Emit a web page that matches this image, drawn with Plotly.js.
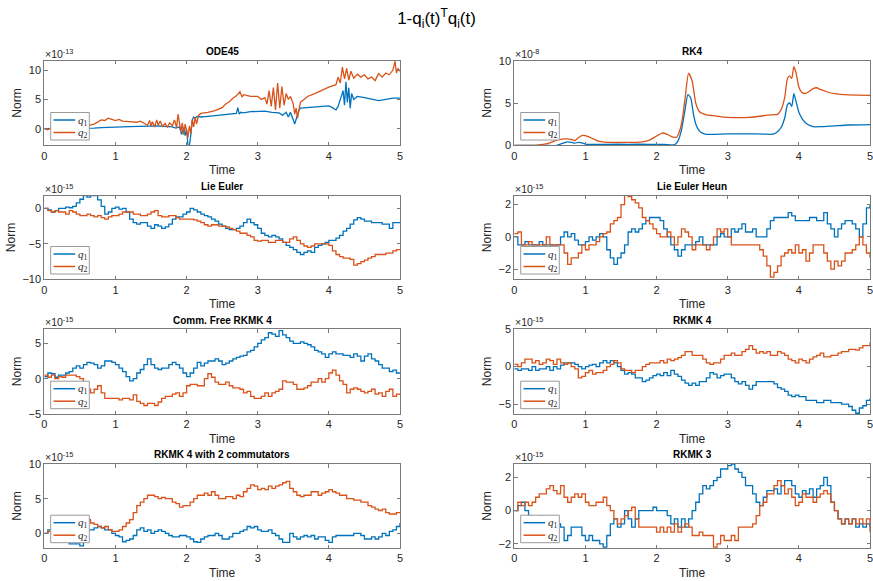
<!DOCTYPE html>
<html><head><meta charset="utf-8">
<script src="https://cdn.plot.ly/plotly-3.0.1.min.js"></script>
<style>html,body{margin:0;padding:0;background:#fff}#chart{width:873px;height:581px}</style>
</head><body><div id="chart"></div>
<script>
// ---------------- DATA (values in units of the axis multiplier) ----------------
// ODE45 (x 1e-13)
const ode45_t1 = [0,0.1,0.2,0.3,0.4,0.5,0.6,0.7,0.8,0.9,1.0,1.1,1.2,1.3,1.4,1.5,1.6,1.7,1.8,1.85,1.9,1.93,1.96,1.98,2.0,2.02,2.04,2.06,2.08,2.1,2.12,2.15,2.2,2.3,2.4,2.5,2.6,2.65,2.7,2.72,2.74,2.76,2.8,2.9,3.0,3.1,3.2,3.3,3.35,3.4,3.43,3.46,3.5,3.52,3.55,3.58,3.6,3.7,3.8,3.9,4.0,4.05,4.1,4.13,4.16,4.2,4.22,4.24,4.26,4.28,4.3,4.32,4.35,4.4,4.5,4.6,4.7,4.8,4.9,5.0];
const ode45_q1 = [0,0,0,0,0,0,0.05,0.1,0.2,0.2,0.2,0.3,0.35,0.4,0.45,0.5,0.5,0.4,0.3,0.1,0.3,-1.0,0.2,-1.2,0.0,-2.9,-2.9,-1.0,1.5,2.0,1.8,2.1,2.0,2.1,2.2,2.3,2.5,2.5,2.6,3.6,2.5,2.8,2.7,2.9,3.0,3.0,2.8,2.7,2.3,2.8,2.0,2.8,1.5,0.8,2.0,3.2,3.5,3.6,3.7,3.8,3.9,3.6,3.2,3.8,5.0,6.5,4.0,8.0,4.5,7.0,3.5,6.0,5.0,5.5,5.3,5.0,4.8,5.0,5.2,5.2];
const ode45_t2 = [0,0.05,0.1,0.15,0.2,0.3,0.4,0.5,0.6,0.7,0.75,0.8,0.85,0.9,0.95,1.0,1.05,1.1,1.2,1.3,1.35,1.4,1.45,1.48,1.5,1.52,1.55,1.58,1.6,1.63,1.66,1.7,1.73,1.76,1.8,1.83,1.86,1.88,1.9,1.92,1.94,1.96,1.98,2.0,2.02,2.04,2.06,2.08,2.1,2.12,2.14,2.17,2.2,2.3,2.4,2.5,2.55,2.6,2.65,2.7,2.75,2.78,2.8,2.9,3.0,3.05,3.1,3.13,3.16,3.19,3.22,3.25,3.28,3.31,3.34,3.37,3.4,3.43,3.46,3.5,3.52,3.54,3.56,3.58,3.6,3.65,3.7,3.8,3.9,4.0,4.05,4.1,4.13,4.16,4.19,4.22,4.25,4.28,4.31,4.35,4.4,4.45,4.5,4.55,4.6,4.65,4.7,4.75,4.8,4.85,4.9,4.93,4.95,4.97,5.0];
const ode45_q2 = [0,-0.2,0.2,-0.3,0,0.1,0.2,0.3,0.5,0.8,1.2,1.5,1.4,1.8,1.6,1.4,1.6,1.3,1.2,1.1,1.3,1.0,0.6,1.4,0.5,1.2,0.3,1.5,0.6,1.3,0.4,0.9,0.2,1.0,0.5,1.5,0.2,2.5,0.5,-0.5,1.0,-1.0,0.8,-0.5,-1.5,0.5,-0.8,1.5,0.3,2.0,0.8,2.3,2.6,2.8,3.1,3.6,4.2,4.6,5.2,5.6,6.3,5.4,5.8,5.5,5.5,5.0,5.3,4.2,6.5,3.8,7.0,3.2,7.8,3.5,7.2,4.0,6.0,5.0,5.5,4.2,2.5,3.5,1.8,3.2,4.5,5.0,5.5,6.0,6.6,7.1,7.3,7.5,8.8,7.8,10.5,8.5,10.3,8.3,9.8,8.6,9.3,8.8,9.2,8.5,8.8,8.2,9.4,8.8,9.5,9.2,10.0,11.5,9.5,10.3,9.8];

// RK4 (x 1e-8)
const rk4_t1 = [0,0.4,0.5,0.55,0.6,0.65,0.7,0.75,0.8,0.85,0.9,0.95,1.0,1.1,1.3,1.6,1.9,2.1,2.2,2.25,2.3,2.35,2.4,2.44,2.48,2.52,2.56,2.6,2.65,2.7,2.8,3.0,3.3,3.5,3.6,3.65,3.7,3.75,3.8,3.84,3.87,3.9,3.93,3.96,4.0,4.05,4.1,4.15,4.2,4.3,4.5,4.7,5.0];
const rk4_q1 = [0,0,-0.02,-0.05,0,0.15,0.3,0.4,0.35,0.25,0.35,0.3,0.15,0.1,0.12,0.12,0.12,0.1,0.05,0.05,0.5,1.8,4.2,6.0,5.6,3.6,2.3,1.7,1.4,1.3,1.3,1.35,1.35,1.33,1.3,1.35,1.6,2.1,3.2,4.8,5.0,4.6,6.1,5.2,3.9,3.1,2.6,2.35,2.2,2.2,2.3,2.4,2.45];
const rk4_t2 = [0,0.3,0.4,0.5,0.6,0.7,0.8,0.85,0.9,0.95,1.0,1.05,1.1,1.2,1.3,1.5,1.7,1.8,1.9,2.0,2.08,2.15,2.22,2.28,2.32,2.36,2.4,2.45,2.5,2.55,2.6,2.7,2.8,3.0,3.3,3.6,3.7,3.75,3.8,3.84,3.87,3.9,3.93,3.96,4.0,4.05,4.1,4.15,4.2,4.25,4.3,4.4,4.5,4.7,5.0];
const rk4_q2 = [0,0,0.1,0.3,0.6,0.75,0.7,0.55,0.9,1.15,1.15,1.0,0.8,0.45,0.35,0.35,0.35,0.4,0.6,1.1,1.45,1.3,1.0,0.95,1.6,3.0,5.5,8.5,7.6,5.0,4.0,3.6,3.5,3.3,3.3,3.6,3.65,4.2,5.6,7.9,8.2,7.9,9.3,8.6,6.9,6.2,6.15,6.4,6.7,6.8,6.6,6.3,6.1,5.95,5.9];

// The remaining series are sampled every 0.05 from t = 0 to t = 5 (x 1e-15)
const lieEuler_q1 = [0,-0.2,-0.5,-0.3,0,0,0.2,0.1,0.3,0.8,
 1.3,1.8,1.6,1.8,1.8,1.2,0.3,-0.8,-0.5,0,
 0.2,-0.1,0,-0.5,-1.5,-2.0,-2.2,-2.0,-2.0,-2.5,
 -2.8,-2.3,-2.5,-2.8,-2.6,-2.2,-1.5,-1.2,-1.2,-0.8,
 -0.5,0,-0.2,-0.5,-0.8,-1.0,-1.2,-1.5,-1.8,-2.2,
 -2.5,-2.8,-3.0,-3.0,-2.8,-2.5,-2.0,-1.5,-2.0,-2.3,
 -2.8,-3.5,-3.8,-4.0,-3.8,-4.0,-4.3,-4.8,-5.2,-5.5,
 -5.8,-6.2,-6.5,-6.2,-6.0,-6.2,-5.5,-5.2,-5.0,-4.8,
 -4.5,-4.5,-4.2,-3.8,-3.2,-2.8,-2.2,-1.6,-1.3,-1.5,
 -1.8,-1.8,-2.0,-2.0,-2.0,-2.2,-2.2,-2.8,-2.0,-2.0,
 -1.9];
const lieEuler_q2 = [0,-0.3,-0.5,-0.3,-0.5,-0.5,-0.8,-0.3,-0.5,-0.8,
 -1.0,-1.0,-0.8,-1.0,-1.2,-1.0,-1.3,-1.5,-1.2,-1.0,
 -1.0,-0.8,-0.5,-0.5,-0.5,-0.8,-0.8,-1.0,-1.0,-0.8,
 -0.5,-0.3,-1.0,-1.2,-1.2,-1.0,-1.0,-1.3,-1.5,-1.5,
 -1.5,-1.5,-1.6,-1.8,-2.0,-2.3,-2.5,-2.3,-2.3,-2.5,
 -2.5,-2.6,-2.8,-3.0,-3.2,-3.5,-3.5,-3.8,-4.0,-4.5,
 -4.6,-4.5,-4.5,-4.8,-4.8,-4.5,-4.5,-4.8,-4.8,-4.3,
 -4.0,-4.5,-5.0,-5.3,-5.5,-5.3,-5.0,-5.0,-5.0,-5.0,
 -5.2,-6.0,-6.5,-6.8,-7.0,-7.0,-7.2,-8.0,-7.8,-7.5,
 -7.3,-7.0,-6.8,-6.5,-6.5,-6.5,-6.3,-6.3,-6.0,-5.8,
 -5.8];
const lieEulerHeun_q1 = [0,-0.5,-0.5,-0.3,-0.5,-0.5,-0.5,-0.3,-0.5,-0.5,
 -0.5,-0.5,-0.5,0,0.3,0,0.2,-0.2,-0.5,-0.5,
 -0.3,0,-0.2,0,0.2,0,-0.8,-1.3,-1.7,-1.3,
 -1.0,-0.5,0.3,0.5,0.3,0.5,0.8,1.0,1.2,1.2,
 1.2,1.0,0.5,0,-0.5,-0.8,-1.2,-0.8,-0.5,-0.5,
 -0.5,-0.3,0,-0.5,-0.5,-0.5,-0.5,0,0.2,0,
 0,0.5,0.3,0.5,0.8,0.3,0.3,0.5,0,0,
 0,0.5,1.0,1.2,1.2,1.2,1.2,1.5,1.3,1.0,
 1.0,1.0,1.0,1.2,1.2,1.0,1.0,1.5,0.8,0.5,
 0,0.5,0.8,1.0,1.0,0.8,0.5,0,0.8,1.8,
 2.0];
const lieEulerHeun_q2 = [0.2,0.3,-0.5,-0.5,-0.3,-0.5,-0.5,-0.5,-0.5,0,
 -0.5,-0.5,-0.5,-0.5,-1.0,-1.7,-1.3,-1.3,-1.0,-0.5,
 -0.8,-0.5,-0.5,-0.3,0,0.2,0.3,0.8,1.0,1.2,
 2.0,2.6,2.5,2.3,2.1,1.8,1.2,1.0,0.8,0.5,
 0.2,0,0,0.3,0,-0.5,0,0.5,0.3,0,
 -0.8,-0.5,-0.5,-0.5,-0.8,-0.5,0,0.5,0.3,0.5,
 0,-0.5,-0.5,-0.5,-0.5,-0.5,-0.5,-0.5,-0.5,-0.8,
 -1.2,-1.8,-2.5,-2.2,-1.8,-1.2,-1.0,-0.8,-1.0,-0.5,
 -1.0,-0.8,-1.5,-1.0,-0.5,-0.5,-0.5,-1.0,-1.5,-2.0,
 -1.5,-1.8,-1.5,-1.0,-1.0,-0.8,-0.5,0,-0.5,-1.0,
 -1.3];
const commFree_q1 = [0.3,0.8,0.7,0.2,0.5,0.5,0.8,1.0,1.5,1.8,
 1.5,2.0,2.3,2.2,2.0,1.5,1.8,2.5,2.5,2.3,
 2.0,1.5,1.0,0.3,-0.3,0,0.8,1.3,2.0,2.8,
 2.0,1.5,1.3,1.5,1.5,2.0,2.3,2.0,1.5,0.8,
 0.3,0.8,1.5,2.3,1.8,2.2,2.5,2.5,2.8,2.5,
 2.0,2.2,2.5,2.8,3.0,3.2,3.3,3.8,4.0,4.5,
 5.0,5.5,5.8,6.5,6.3,6.0,6.8,6.2,5.8,5.3,
 5.0,5.0,5.2,5.0,4.8,4.5,4.0,3.8,3.5,3.0,
 3.5,3.8,3.5,3.5,3.3,3.3,3.0,3.5,3.2,2.5,
 3.2,3.5,2.8,2.5,2.0,1.5,1.5,1.0,1.2,0.8,
 0.8];
const commFree_q2 = [0.5,0.2,0.5,0,0.3,0.2,0.5,0.5,0.5,0.3,
 0,-0.8,-1.5,-2.0,-1.5,-1.0,-2.0,-2.8,-2.8,-2.8,
 -2.8,-3.0,-2.8,-2.8,-3.0,-2.3,-3.2,-3.5,-3.8,-3.5,
 -3.5,-3.8,-3.3,-2.8,-2.5,-2.5,-2.2,-2.0,-2.5,-2.0,
 -1.0,-0.8,-0.8,-1.0,-1.0,0,0.7,0.2,-0.5,-0.8,
 -0.8,-0.5,-1.0,-1.3,-1.3,-1.5,-2.0,-1.8,-2.5,-2.8,
 -2.8,-2.5,-2.0,-2.5,-2.0,-1.8,-1.5,-0.3,-0.5,-0.5,
 -0.8,-1.5,-1.5,-1.3,-1.0,-0.5,-0.5,0,-0.5,0,
 0.8,1.2,0.5,-0.3,-0.8,-2.0,-1.5,-1.3,-1.5,-1.8,
 -2.0,-1.8,-1.5,-2.2,-2.0,-2.5,-1.8,-1.5,-2.5,-2.2,
 -2.3];
const rkmk4_q1 = [-0.3,-0.5,-0.3,-0.3,-0.5,0,-0.5,-0.3,-0.3,0,
 -0.5,0,-0.3,0.2,0.5,0.5,0.5,0.3,0,-0.3,
 0,0.2,0.3,0,0.5,0.8,0.5,0.8,0.5,0,
 -0.5,-1.0,-0.8,-1.0,-1.5,-1.5,-2.0,-1.8,-1.5,-1.2,
 -1.0,-1.2,-0.8,-1.2,-0.5,-1.0,-1.3,-1.8,-2.2,-2.5,
 -2.2,-2.5,-2.0,-2.0,-1.5,-0.8,-1.0,-1.5,-1.2,-1.0,
 -1.0,-1.5,-2.0,-2.3,-2.0,-2.5,-3.0,-2.5,-2.0,-2.0,
 -2.0,-2.0,-2.0,-2.3,-2.8,-3.0,-3.3,-3.8,-4.0,-3.8,
 -4.0,-4.0,-4.5,-4.5,-4.5,-4.8,-4.8,-4.5,-4.5,-4.8,
 -4.8,-4.8,-5.0,-5.0,-5.3,-5.8,-6.2,-5.5,-5.2,-4.5,
 -4.2];
const rkmk4_q2 = [0.3,0,0.5,1.0,1.0,0.5,0.8,0.3,0.5,1.0,
 0.8,0.3,1.0,0.5,0.3,0.5,0,-0.3,-1.5,-1.3,
 -0.8,-0.5,-1.0,-0.8,-0.8,-0.5,0,0.3,0.8,0.5,
 -0.3,-0.5,-0.5,-0.8,-0.5,-0.5,0,0.3,0.5,0.5,
 0.5,0.8,0.5,1.0,0.8,1.0,1.2,1.5,2.0,2.0,
 1.5,1.5,1.5,1.0,0.5,0.3,0.5,0.5,1.0,1.5,
 1.5,1.8,1.5,1.5,2.0,2.3,2.8,2.3,1.8,2.0,
 1.8,2.0,1.5,1.5,2.0,1.8,1.5,1.0,0.8,0.5,
 1.0,0.8,0.5,1.0,1.3,1.5,1.8,1.3,1.3,1.5,
 1.5,1.8,2.0,2.0,2.3,2.3,2.2,2.5,2.8,2.8,
 3.2];
const rkmk4c2_q1 = [0,0.5,0,-0.3,-0.5,-0.8,-1.0,-1.5,-1.5,-1.5,
 -1.8,-1.0,0.5,0.5,0.8,1.0,0.8,0.5,0.5,0,
 -0.3,-0.5,-1.2,-1.0,-0.8,-0.3,0.5,0.8,0.3,0.5,
 0,0.3,0.5,0.3,0,-0.3,-0.5,-0.5,-0.3,-0.3,
 -0.5,-0.8,-1.2,-1.3,-0.8,-0.5,-0.3,-0.3,0,-0.3,
 -0.8,-0.8,-0.5,0,0,0.3,0.5,1.0,0.8,1.0,
 0.5,0.3,0.3,0.5,0,-0.3,-0.8,-1.3,-1.3,0,
 -0.5,-0.8,-0.5,-0.3,-0.5,-0.3,-0.8,-0.5,-0.5,-1.0,
 -1.3,-0.5,-0.3,-0.3,-0.3,-0.3,-0.3,0,0,-0.3,
 -0.8,-0.8,-0.5,-0.8,-0.5,0,-0.3,0.3,0.5,1.0,
 1.5];
const rkmk4c2_q2 = [0,0.3,0.5,0.8,1.0,1.2,1.3,1.5,1.5,1.8,
 1.8,2.0,2.0,1.5,1.3,1.0,0.8,1.0,0.5,0.3,
 0.3,0.5,1.0,1.5,2.0,3.0,4.0,4.5,5.0,5.5,
 5.5,5.3,5.0,5.2,5.0,5.0,4.5,4.3,3.8,4.0,
 4.0,4.5,5.0,5.5,5.5,5.8,5.5,6.0,5.5,5.0,
 5.0,5.3,5.3,5.0,5.5,5.3,6.0,6.5,7.0,6.8,
 6.3,6.5,6.3,6.8,6.5,6.8,7.0,7.3,7.5,6.5,
 6.0,5.5,5.3,5.5,5.5,6.0,6.0,5.5,5.8,6.0,
 6.3,6.0,5.8,5.5,5.5,5.0,5.0,4.8,4.8,4.5,
 4.5,4.0,3.8,3.5,3.3,3.5,3.0,2.8,2.8,3.0,
 3.0];
const rkmk3_q1 = [0,0.3,0.5,0,-0.3,-0.5,-0.5,-0.3,-0.5,-0.5,
 -0.5,-0.8,-0.8,-1.0,-1.8,-1.5,-1.0,-1.0,-1.0,-1.5,
 -1.8,-1.5,-1.8,-1.8,-2.0,-2.2,-1.5,-0.8,-0.5,-1.0,
 -0.8,0,-0.5,-1.0,-0.5,0,0,0,0,0.2,
 0,0,0,-0.3,-0.8,-0.5,-1.0,-0.5,-1.0,-0.5,
 0,0.5,1.0,1.5,1.3,1.5,1.8,2.0,2.5,2.5,
 2.7,2.8,2.5,2.3,2.0,1.5,1.5,1.0,0.5,0.3,
 0.8,1.2,1.2,1.3,1.0,1.5,1.8,1.8,1.5,1.0,
 0.8,1.2,1.0,1.3,0.8,1.3,1.5,2.0,1.5,0.5,
 0,-0.5,-0.8,-0.5,-0.8,-0.5,-1.0,-0.8,-1.0,-0.8,
 -1.0];
const rkmk3_q2 = [0,0.5,0.3,0.5,0.3,0.5,0.8,1.0,1.0,1.3,
 1.5,1.2,1.0,1.5,0.8,0.5,0.8,1.0,0.8,1.0,
 0.5,0.3,0.3,0.5,0.5,0.8,0.3,0,-0.5,-0.8,
 -0.5,-0.3,0,0.2,-0.5,-1.0,-1.0,-1.0,-1.0,-1.0,
 -1.3,-1.0,-1.3,-1.0,-1.3,-0.8,-1.3,-1.0,-0.8,-1.0,
 -1.5,-1.5,-1.3,-1.5,-1.5,-1.5,-2.2,-2.0,-1.5,-1.8,
 -1.8,-1.5,-1.8,-1.0,-1.0,-1.0,-1.0,-0.8,-0.3,0.3,
 0.5,1.0,1.0,1.5,1.8,1.5,1.0,1.3,0.8,0.3,
 0.5,1.0,0.8,0.8,0.5,0.8,1.0,1.2,1.0,0.5,
 0,-0.5,-0.8,-0.5,-0.8,-0.5,-0.8,-0.5,-0.8,-0.5,
 -1.3];

const panelTitles = ['ODE45','RK4','Lie Euler','Lie Euler Heun','Comm. Free RKMK 4','RKMK 4','RKMK 4 with 2 commutators','RKMK 3'];
const exponents = ['-13','-8','-15','-15','-15','-15','-15','-15'];
const seriesNames = ['<i>q</i><sub>1</sub>','<i>q</i><sub>2</sub>'];

// ---------------- LAYOUT CONFIG ----------------
const panels = [
  {q1:ode45_q1, t1:ode45_t1, q2:ode45_q2, t2:ode45_t2, range:[-2.83,11.6], dtick:5, shape:'linear'},
  {q1:rk4_q1, t1:rk4_t1, q2:rk4_q2, t2:rk4_t2, range:[0,10], dtick:5, shape:'spline'},
  {q1:lieEuler_q1, q2:lieEuler_q2, range:[-10,1.8], dtick:5, shape:'hv'},
  {q1:lieEulerHeun_q1, q2:lieEulerHeun_q2, range:[-2.63,2.55], dtick:2, shape:'hv'},
  {q1:commFree_q1, q2:commFree_q2, range:[-5,7.03], dtick:5, shape:'hv'},
  {q1:rkmk4_q1, q2:rkmk4_q2, range:[-6.3,5], dtick:5, shape:'hv'},
  {q1:rkmk4c2_q1, q2:rkmk4c2_q2, range:[-2.1,10], dtick:5, shape:'hv'},
  {q1:rkmk3_q1, q2:rkmk3_q2, range:[-2.25,2.8], dtick:2, shape:'hv'}
];

const W = 873, H = 581;
const cols = [[44.3, 400], [514.3, 870]];
const rows = [[60.7, 145.3], [195.7, 279.3], [329, 414], [464, 548]];
const C1 = '#0072BD', C2 = '#D95319';
const axisCol = '#7a7a7a', textCol = '#262626';
const sans = 'Liberation Sans, Arial, Helvetica, sans-serif';
const serif = 'Liberation Serif, DejaVu Serif, serif';

const traces = [];
const layout = {
  width: W, height: H,
  margin: {l:0, r:0, t:0, b:0},
  paper_bgcolor: '#fff', plot_bgcolor: '#fff',
  showlegend: false,
  hovermode: false,
  title: {text: '1-q<sub>i</sub>(t)<sup>T</sup>q<sub>i</sub>(t)', x: 0.5, xanchor: 'center', y: 1 - 18/H, yanchor: 'middle',
          font: {family: sans, size: 17, color: '#000'}},
  annotations: [],
  shapes: []
};

const px = v => v / W;            // pixel x -> paper
const py = v => 1 - v / H;        // pixel y -> paper

panels.forEach((p, i) => {
  const k = i + 1;
  const sfx = k === 1 ? '' : String(k);
  const c = cols[i % 2], r = rows[Math.floor(i / 2)];
  const xd = [px(c[0]), px(c[1])];
  const yd = [py(r[1]), py(r[0])];
  const common = {
    showline: true, mirror: 'ticks', linecolor: axisCol, linewidth: 1,
    ticks: 'inside', ticklen: 3.5, tickwidth: 1, tickcolor: axisCol,
    tickfont: {family: sans, size: 11, color: textCol},
    ticklabeloverflow: 'allow',
    showgrid: false, zeroline: false, fixedrange: true
  };
  layout['xaxis' + sfx] = Object.assign({}, common, {
    domain: xd, anchor: 'y' + sfx, range: [0, 5], tick0: 0, dtick: 1,
    title: {text: 'Time', font: {family: sans, size: 12, color: textCol}, standoff: 5}
  });
  layout['yaxis' + sfx] = Object.assign({}, common, {
    domain: yd, anchor: 'x' + sfx, range: p.range, tick0: 0, dtick: p.dtick,
    title: {text: 'Norm', font: {family: sans, size: 12, color: textCol}, standoff: 4}
  });
  const series = [[p.q1, p.t1, C1, seriesNames[0]], [p.q2, p.t2, C2, seriesNames[1]]];
  series.forEach(([y, t, col, nm]) => {
    const tr = {
      type: 'scatter', mode: 'lines', y: y, name: nm,
      xaxis: 'x' + sfx, yaxis: 'y' + sfx, showlegend: false,
      line: {color: col, width: 1.3, shape: p.shape},
      cliponaxis: true
    };
    if (p.shape === 'spline') tr.line.smoothing = 0.6;
    if (t) { tr.x = t; } else { tr.x0 = 0; tr.dx = 0.05; }
    traces.push(tr);
  });

  // legend box (bottom-left inside the axes, as in the MATLAB figure)
  const bl = c[0] + 6.4, br = c[0] + 45, bb = r[1] - 5.3, bt = r[1] - 32.8;
  layout.shapes.push({type: 'rect', xref: 'paper', yref: 'paper', x0: px(bl), x1: px(br), y0: py(bb), y1: py(bt),
    fillcolor: '#ffffff', line: {color: '#9a9a9a', width: 1}, layer: 'above'});
  [[bt + 7.5, C1, seriesNames[0]], [bt + 20, C2, seriesNames[1]]].forEach(([yy, col, nm]) => {
    layout.shapes.push({type: 'line', xref: 'paper', yref: 'paper', x0: px(bl + 2.8), x1: px(bl + 24.5), y0: py(yy), y1: py(yy),
      line: {color: col, width: 1.5}, layer: 'above'});
    layout.annotations.push({text: nm, xref: 'paper', yref: 'paper', x: px(bl + 25.5), y: py(yy + 0.5),
      xanchor: 'left', yanchor: 'middle', showarrow: false, font: {family: serif, size: 11, color: textCol}});
  });

  layout.annotations.push({
    text: '<b>' + panelTitles[i] + '</b>', xref: 'paper', yref: 'paper',
    x: (xd[0] + xd[1]) / 2, y: yd[1] + 1.5 / H, xanchor: 'center', yanchor: 'bottom',
    showarrow: false, font: {family: sans, size: 10, color: '#000'}
  });
  layout.annotations.push({
    text: '\u00d710<sup>' + exponents[i] + '</sup>', xref: 'paper', yref: 'paper',
    x: xd[0] - 1 / W, y: yd[1] - 1 / H, xanchor: 'left', yanchor: 'bottom',
    showarrow: false, font: {family: sans, size: 10.5, color: textCol}
  });
});

Plotly.newPlot('chart', traces, layout, {staticPlot: true, displayModeBar: false});
</script>
</body></html>
